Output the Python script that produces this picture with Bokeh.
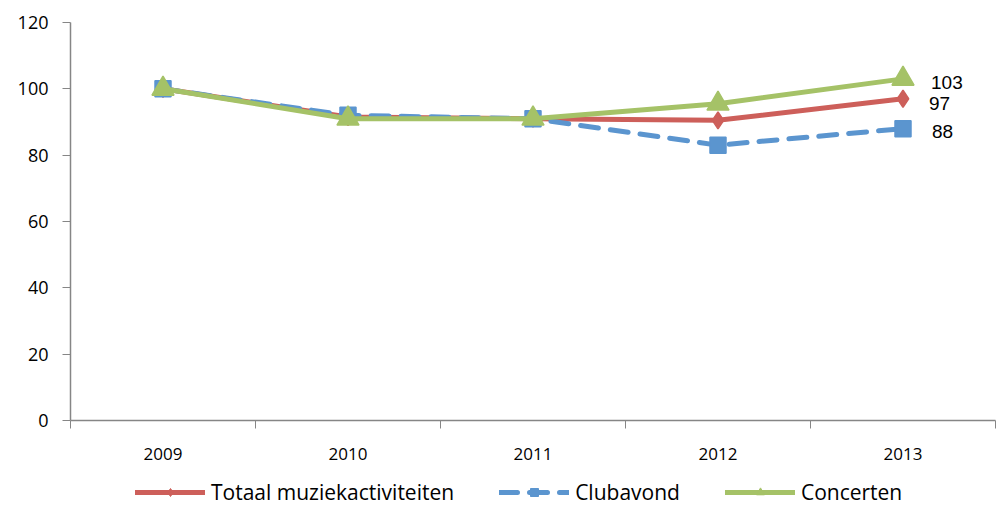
from bokeh.plotting import figure
from bokeh.layouts import column
from bokeh.models import FixedTicker, Legend, LegendItem, Range1d
from bokeh.core.properties import value
from bokeh.embed import file_html
from bokeh.resources import INLINE

years = ["2009", "2010", "2011", "2012", "2013"]
totaal = [100, 91.5, 91, 90.5, 97]
clubavond = [100, 92, 91, 83, 88]
concerten = [100, 91, 91, 95.5, 103]
y_ticks = [0, 20, 40, 60, 80, 100, 120]
series_names = ["Totaal muziekactiviteiten", "Clubavond", "Concerten"]

RED = "#CD5F5A"
BLUE = "#5B95CF"
GREEN = "#A5C267"
AX = "#868686"

xs = list(range(1, len(years) + 1))
bounds = [i + 0.5 for i in range(0, len(years) + 1)]

p = figure(width=997, height=466, output_backend="svg", toolbar_location=None,
           x_range=Range1d(0.5, len(years) + 0.5), y_range=Range1d(0, 120),
           min_border_left=70, min_border_right=2, min_border_top=22, min_border_bottom=46)
p.outline_line_color = None
p.grid.visible = False
p.background_fill_color = "white"

# axes
p.xaxis.ticker = FixedTicker(ticks=xs, minor_ticks=bounds)
p.xaxis.major_label_overrides = {x: y for x, y in zip(xs, years)}
p.xaxis.major_tick_out = 0
p.xaxis.major_tick_in = 0
p.xaxis.minor_tick_out = 8
p.xaxis.minor_tick_in = 0
p.xaxis.minor_tick_line_color = AX
p.xaxis.axis_line_color = AX
p.xaxis.axis_line_width = 1.5
p.xaxis.major_label_standoff = 19
p.xaxis.major_label_text_font = "Open Sans"
p.xaxis.major_label_text_font_size = "17px"
p.xaxis.major_label_text_color = "#000000"

p.yaxis.ticker = FixedTicker(ticks=y_ticks)
p.yaxis.major_tick_out = 8
p.yaxis.major_tick_in = 0
p.yaxis.minor_tick_line_color = None
p.yaxis.major_tick_line_color = AX
p.yaxis.axis_line_color = AX
p.yaxis.axis_line_width = 1.5
p.yaxis.major_label_standoff = 14
p.yaxis.major_label_text_font = "Open Sans"
p.yaxis.major_label_text_font_size = "18px"
p.yaxis.major_label_text_color = "#000000"

# series styles
styles = [
    dict(color=RED, dash="solid", marker="diamond", size=17),
    dict(color=BLUE, dash="18 12", marker="square", size=16),
    dict(color=GREEN, dash="solid", marker="triangle", size=22),
]
data = [totaal, clubavond, concerten]

for ys, st in zip(data, styles):
    p.line(xs, ys, line_color=st["color"], line_width=5, line_dash=st["dash"], line_cap="round")
    p.scatter(xs, ys, marker=st["marker"], size=st["size"], fill_color=st["color"],
              line_color=st["color"], line_width=1.5)

# end labels
last_x = [xs[-1]] * 3
last_y = [concerten[-1], totaal[-1], clubavond[-1]]
last_t = [str(round(v)) for v in last_y]
p.text(x=last_x, y=last_y, text=last_t, x_offset=[28, 26, 29], y_offset=[4, 5, 3],
       text_font=value("Liberation Sans"), text_font_size="19px",
       text_baseline="middle", text_align="left", text_color="#000000")

# legend strip below the chart (its renderers lie outside its visible range)
q = figure(width=997, height=40, output_backend="svg", toolbar_location=None,
           x_axis_location=None, y_axis_location=None,
           x_range=Range1d(1000, 1001), y_range=Range1d(1000, 1001),
           min_border_left=0, min_border_right=0, min_border_top=0, min_border_bottom=0)
q.outline_line_color = None
q.grid.visible = False

items = []
for name, ys, st in zip(series_names, data, styles):
    lr = q.line(xs, ys, line_color=st["color"], line_width=5, line_dash=st["dash"], line_cap="round")
    sr = q.scatter(xs, ys, marker=st["marker"], size=st["size"] - 2, fill_color=st["color"],
                   line_color=st["color"])
    items.append(LegendItem(label=name, renderers=[lr, sr]))

legend = Legend(items=items, orientation="horizontal", location=(65, 0))
legend.glyph_width = 70
legend.glyph_height = 20
legend.label_text_font = "Open Sans"
legend.label_text_font_size = "21px"
legend.label_text_color = "#000000"
legend.label_standoff = 6
legend.spacing = 45
legend.padding = 0
legend.margin = 0
legend.border_line_color = None
legend.background_fill_alpha = 0
q.add_layout(legend)

layout = column(p, q, spacing=0)
open("out.html", "w").write(file_html(layout, INLINE))
